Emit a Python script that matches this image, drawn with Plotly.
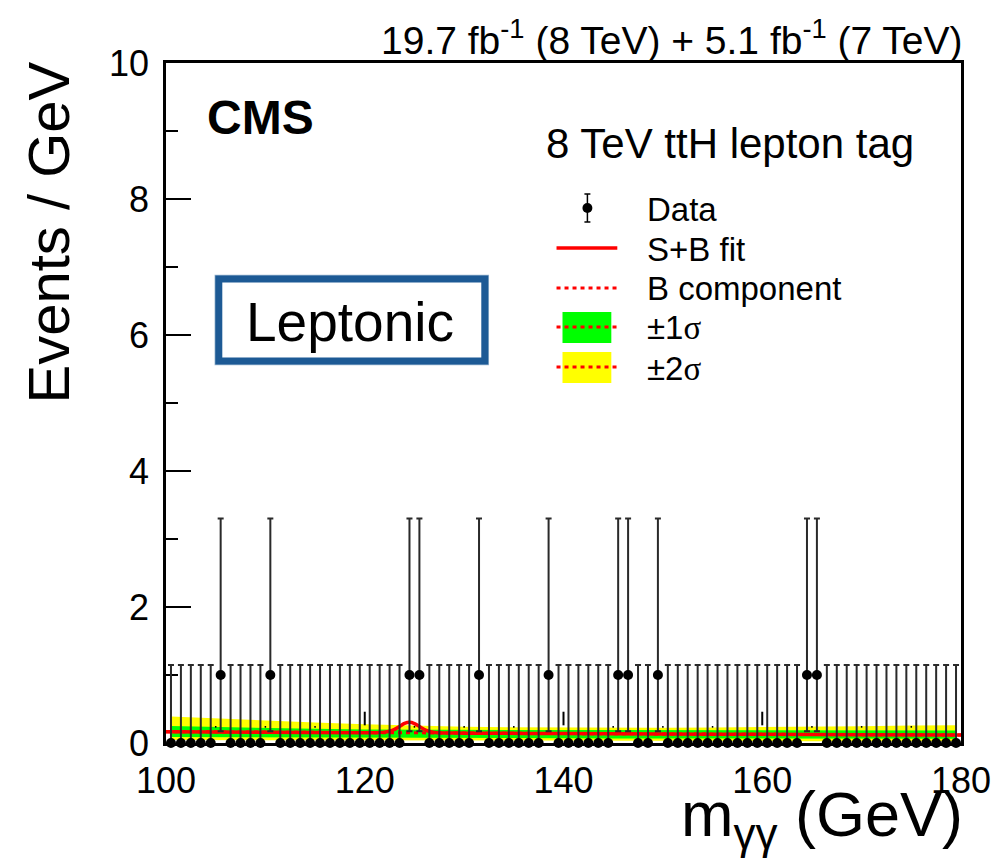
import numpy as np
import plotly.graph_objects as go

# ---- observed events per 1 GeV bin, 100-180 GeV ----
bin_lo = 100.0
bin_width = 1.0
counts = [0, 0, 0, 0, 0, 1, 0, 0, 0, 0,
          1, 0, 0, 0, 0, 0, 0, 0, 0, 0,
          0, 0, 0, 0, 1, 1, 0, 0, 0, 0,
          0, 1, 0, 0, 0, 0, 0, 0, 1, 0,
          0, 0, 0, 0, 0, 1, 1, 0, 0, 1,
          0, 0, 0, 0, 0, 0, 0, 0, 0, 0,
          0, 0, 0, 0, 1, 1, 0, 0, 0, 0,
          0, 0, 0, 0, 0, 0, 0, 0, 0, 0]
# Garwood (68%) Poisson intervals for n = 0 and n = 1
err_up = {0: 1.148, 1: 2.300}
err_dn = {0: 0.0, 1: 0.827}

# ---- background-only component and its uncertainty bands ----
band_x = [100.5, 105, 110, 115, 120, 125, 130, 135, 140, 145, 150, 155, 160, 165, 170, 175, 179.5]
bkg = [0.166, 0.162, 0.158, 0.154, 0.151, 0.148, 0.145, 0.142, 0.139, 0.136, 0.133, 0.130, 0.128, 0.125, 0.123, 0.120, 0.118]
up1 = [0.250, 0.235, 0.220, 0.208, 0.200, 0.195, 0.192, 0.190, 0.190, 0.190, 0.190, 0.190, 0.190, 0.190, 0.188, 0.185, 0.182]
lo1 = [0.088, 0.085, 0.082, 0.080, 0.078, 0.076, 0.074, 0.072, 0.070, 0.068, 0.067, 0.066, 0.065, 0.064, 0.063, 0.062, 0.061]
up2 = [0.390, 0.360, 0.330, 0.300, 0.275, 0.255, 0.240, 0.232, 0.228, 0.226, 0.226, 0.228, 0.232, 0.240, 0.248, 0.256, 0.262]
lo2 = [0.044, 0.042, 0.040, 0.038, 0.036, 0.035, 0.034, 0.033, 0.032, 0.031, 0.030, 0.029, 0.028, 0.027, 0.026, 0.025, 0.024]

bkg_line_x = [100, 110, 120, 130, 140, 150, 160, 170, 180]
bkg_line_y = [0.167, 0.158, 0.151, 0.145, 0.139, 0.133, 0.128, 0.123, 0.118]

# ---- signal + background fit ----
sb_x = [100, 110, 120, 121, 122, 122.5, 123, 123.5, 124, 124.5, 125, 125.5, 126, 126.5, 127, 128, 130, 140, 150, 160, 170, 180]
sb_y = [0.167, 0.158, 0.151, 0.152, 0.160, 0.173, 0.200, 0.244, 0.287, 0.304, 0.286, 0.243, 0.198, 0.169, 0.155, 0.148, 0.145, 0.139, 0.133, 0.128, 0.123, 0.118]

x_ticks = [100, 120, 140, 160, 180]
y_ticks = [0, 2, 4, 6, 8, 10]
inner_major_ticks = [120, 140, 160]
inner_minor_ticks = [105, 110, 115, 125, 130, 135, 145, 150, 155, 165, 170, 175]

FONT = "Liberation Sans, Arial, Helvetica, sans-serif"
RED, GREEN, YELLOW = "#ff0000", "#00ff00", "#ffff00"

# plot-frame geometry in page pixels
W, H = 1003, 863
L, R, T, B = 166, 964, 63, 743


def px(x):
    return (x - L) / (R - L)


def py(y):
    return (B - y) / (B - T)


centers = [bin_lo + bin_width * (i + 0.5) for i in range(len(counts))]
eu = [err_up[c] for c in counts]
ed = [err_dn[c] for c in counts]

fig = go.Figure()

# +-2 sigma band
fig.add_trace(go.Scatter(x=band_x, y=lo2, mode="lines", line=dict(width=0, color=YELLOW),
                         showlegend=False, hoverinfo="skip"))
fig.add_trace(go.Scatter(x=band_x, y=up2, mode="lines", line=dict(width=0, color=YELLOW),
                         fill="tonexty", fillcolor=YELLOW, showlegend=False, hoverinfo="skip"))
# +-1 sigma band
fig.add_trace(go.Scatter(x=band_x, y=lo1, mode="lines", line=dict(width=0, color=GREEN),
                         showlegend=False, hoverinfo="skip"))
fig.add_trace(go.Scatter(x=band_x, y=up1, mode="lines", line=dict(width=0, color=GREEN),
                         fill="tonexty", fillcolor=GREEN, showlegend=False, hoverinfo="skip"))
# background component
fig.add_trace(go.Scatter(x=bkg_line_x, y=bkg_line_y, mode="lines",
                         line=dict(color=RED, width=3, dash="4px,4px"), showlegend=False))
# S+B fit
fig.add_trace(go.Scatter(x=sb_x, y=sb_y, mode="lines", line=dict(color=RED, width=3.5, shape="spline"),
                         showlegend=False))
# data
fig.add_trace(go.Scatter(
    x=centers, y=counts, mode="markers",
    marker=dict(color="black", size=10),
    error_y=dict(type="data", symmetric=False, array=eu, arrayminus=ed,
                 color="#2a2a2a", thickness=2, width=3),
    cliponaxis=False, showlegend=False))

shapes = []
# x-axis tick marks floating inside the frame
for t in inner_major_ticks:
    shapes.append(dict(type="line", xref="x", yref="y", x0=t, x1=t, y0=0.26, y1=0.46,
                       line=dict(color="black", width=2)))
for t in inner_minor_ticks:
    shapes.append(dict(type="line", xref="x", yref="y", x0=t, x1=t, y0=0.225, y1=0.25,
                       line=dict(color="black", width=1.5)))

# legend symbols
dx, dy = 589, 208
shapes += [
    dict(type="line", xref="paper", yref="paper", x0=px(dx), x1=px(dx), y0=py(194), y1=py(222),
         line=dict(color="black", width=1.5)),
    dict(type="line", xref="paper", yref="paper", x0=px(dx - 3), x1=px(dx + 3), y0=py(194), y1=py(194),
         line=dict(color="black", width=1.5)),
    dict(type="line", xref="paper", yref="paper", x0=px(dx - 3), x1=px(dx + 3), y0=py(222), y1=py(222),
         line=dict(color="black", width=1.5)),
    dict(type="circle", xref="paper", yref="paper", x0=px(dx - 5), x1=px(dx + 5), y0=py(dy - 5), y1=py(dy + 5),
         fillcolor="black", line=dict(color="black", width=0)),
    dict(type="line", xref="paper", yref="paper", x0=px(558), x1=px(619), y0=py(248), y1=py(248),
         line=dict(color=RED, width=3.5)),
    dict(type="line", xref="paper", yref="paper", x0=px(558), x1=px(619), y0=py(288), y1=py(288),
         line=dict(color=RED, width=3, dash="4px,4px")),
    dict(type="rect", xref="paper", yref="paper", x0=px(564), x1=px(613), y0=py(343), y1=py(312),
         fillcolor=GREEN, line=dict(width=0)),
    dict(type="line", xref="paper", yref="paper", x0=px(558), x1=px(619), y0=py(327), y1=py(327),
         line=dict(color=RED, width=3, dash="4px,4px")),
    dict(type="rect", xref="paper", yref="paper", x0=px(564), x1=px(613), y0=py(383), y1=py(352),
         fillcolor=YELLOW, line=dict(width=0)),
    dict(type="line", xref="paper", yref="paper", x0=px(558), x1=px(619), y0=py(367), y1=py(367),
         line=dict(color=RED, width=3, dash="4px,4px")),
]

# brushed blue frame around the category label
BLUE = "#1d5a95"
shapes += [
    dict(type="rect", xref="paper", yref="paper", x0=px(219), x1=px(486), y0=py(361), y1=py(279),
         line=dict(color=BLUE, width=7)),
    dict(type="rect", xref="paper", yref="paper", x0=px(215.5), x1=px(489.5), y0=py(364.5), y1=py(275.5),
         line=dict(color="rgba(29,90,149,0.45)", width=1.5)),
]

annotations = [
    dict(text="19.7 fb<sup>-1</sup> (8 TeV) + 5.1 fb<sup>-1</sup> (7 TeV)", x=px(968), y=py(38),
         xanchor="right", yanchor="middle", font=dict(size=39)),
    dict(text="<b>CMS</b>", x=px(205), y=py(117), xanchor="left", yanchor="middle",
         font=dict(size=48)),
    dict(text="8 TeV ttH lepton tag", x=px(545), y=py(143), xanchor="left", yanchor="middle",
         font=dict(size=42)),
    dict(text="Data", x=px(647), y=py(209), xanchor="left", yanchor="middle", font=dict(size=33)),
    dict(text="S+B fit", x=px(647), y=py(249), xanchor="left", yanchor="middle", font=dict(size=33)),
    dict(text="B component", x=px(647), y=py(288), xanchor="left", yanchor="middle", font=dict(size=33)),
    dict(text="±1<span style='font-family:Liberation Serif, serif'>σ</span>", x=px(647), y=py(328),
         xanchor="left", yanchor="middle", font=dict(size=33)),
    dict(text="±2<span style='font-family:Liberation Serif, serif'>σ</span>", x=px(647), y=py(368),
         xanchor="left", yanchor="middle", font=dict(size=33)),
    dict(text="Leptonic", x=px(351), y=py(322), xanchor="center", yanchor="middle",
         font=dict(size=55)),
    dict(text="Events / GeV", x=px(48), y=py(232), xanchor="center", yanchor="middle", textangle=-90,
         font=dict(size=58)),
    dict(text="m<sub>γγ</sub> (GeV)", x=px(968), y=py(818), xanchor="right", yanchor="middle",
         font=dict(size=63)),
]
for a in annotations:
    a.update(xref="paper", yref="paper", showarrow=False)
    a["font"]["color"] = "black"
    a["font"]["family"] = FONT

fig.update_layout(
    width=W, height=H,
    margin=dict(l=L, r=W - R, t=T, b=H - B, pad=0),
    paper_bgcolor="white", plot_bgcolor="white",
    font=dict(family=FONT, color="black"),
    shapes=shapes, annotations=annotations,
    xaxis=dict(range=[100, 180], tickvals=x_ticks, ticks="", showgrid=False, zeroline=False,
               showline=True, linecolor="black", linewidth=2.5, mirror=True,
               tickfont=dict(size=36, family=FONT), ticklabelstandoff=4, layer="below traces"),
    yaxis=dict(range=[0, 10], tickvals=y_ticks, ticks="inside", ticklen=25, tickwidth=2, tickcolor="black",
               minor=dict(ticks="inside", ticklen=12, tickwidth=2, tickcolor="black", dtick=1, showgrid=False),
               showgrid=False, zeroline=False, showline=True, linecolor="black", linewidth=2.5, mirror=True,
               tickfont=dict(size=36, family=FONT), ticklabelstandoff=7, layer="below traces"),
)

fig.write_html("out.html")
